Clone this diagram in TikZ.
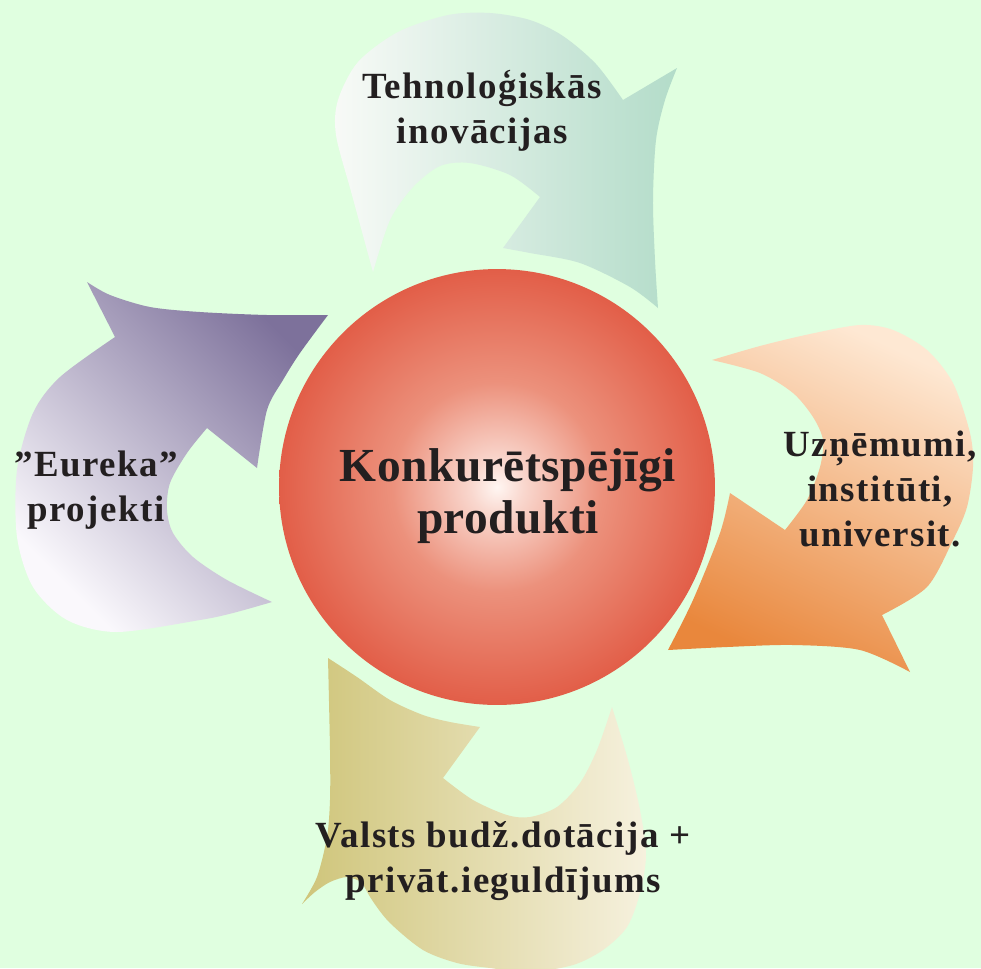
\documentclass[tikz,border=0pt]{standalone}
\usepackage{fontspec}
\setmainfont{Liberation Serif}
\usepackage{xcolor}
\usepackage{tikz}
\usetikzlibrary{calc}

\definecolor{bggreen}{HTML}{E0FFE0}
\definecolor{inkdark}{HTML}{231F20}
\definecolor{tealL}{HTML}{F8FAF7}
\definecolor{tealR}{HTML}{B3DCC9}
\definecolor{orgL}{HTML}{FEE8D3}
\definecolor{orgD}{HTML}{E9873C}
\definecolor{khaD}{HTML}{CFC57A}
\definecolor{khaL}{HTML}{F6F1DE}
\definecolor{purD}{HTML}{7D719B}
\definecolor{purL}{HTML}{FAF8FC}
\definecolor{ballin}{HTML}{FFF6F2}
\definecolor{ballmid}{HTML}{EC917C}
\definecolor{ballout}{HTML}{E25E48}

\pgfdeclareradialshading{ballred}{\pgfpoint{0bp}{0bp}}{color(0bp)=(ballin); color(3bp)=(ballin!70!ballmid); color(12bp)=(ballmid); color(25bp)=(ballout); color(50bp)=(ballout)}

\begin{document}
\begin{tikzpicture}[
  x=0.02cm, y=-0.02cm,
  ball/.style={circle, minimum size=8.72cm, inner sep=0pt, shade, shading=ballred},
  arrtext/.style={font=\fontsize{21}{25.5}\selectfont\bfseries\addfontfeature{LetterSpace=4}, text=inkdark, align=center, inner sep=0pt},
  prodtext/.style={font=\fontsize{27}{29.5}\selectfont\bfseries\addfontfeature{LetterSpace=1}, text=inkdark, align=center, inner sep=0pt}
]

\useasboundingbox[fill=bggreen] (0,0) rectangle (981,968);

% Arrows
\shade[left color=tealL, right color=tealR]
  plot[smooth] coordinates {(373,272) (352,195) (336,135) (338,100) (358,62) (398,32) (448,15) (490,13) (530,20) (563,36) (596,64) (623,100)}
  -- plot[smooth] coordinates {(677,68) (665,100) (656,140) (653,200) (655,260) (658,308)}
  -- plot[smooth] coordinates {(658,308) (630,287) (580,263) (530,253) (503,248)}
  -- plot[smooth] coordinates {(540,197) (510,175) (470,163) (440,166) (413,187) (390,220) (373,272)}
  -- cycle;

\shade[top color=orgL, bottom color=orgD, shading angle=-25]
  plot[smooth] coordinates {(712,360) (760,346) (810,334) (860,325) (893,330) (927,350) (953,383) (970,433) (973,467) (967,507) (953,540) (927,587) (882,615)}
  -- plot[smooth] coordinates {(910,672) (860,650) (793,645) (727,647) (668,650)}
  -- plot[smooth] coordinates {(668,650) (693,600) (720,533) (730,493)}
  -- plot[smooth] coordinates {(785,530) (807,500) (820,467) (823,440) (813,417) (793,393) (760,373) (712,360)}
  -- cycle;

\shade[left color=khaD, right color=khaL]
  plot[smooth] coordinates {(612,707) (628,760) (640,810) (646,855) (640,893) (627,927) (603,950) (573,965) (530,972) (490,968) (457,963) (423,950) (390,923) (372,900) (362,882)}
  -- plot[smooth] coordinates {(362,882) (347,877) (330,882) (315,892) (302,904)}
  -- plot[smooth] coordinates {(302,904) (317,877) (327,837) (330,800) (330,750) (328,658)}
  -- plot[smooth] coordinates {(328,658) (357,677) (390,700) (423,715) (450,722) (480,727)}
  -- plot[smooth] coordinates {(443,778) (473,800) (507,815) (530,817) (557,807) (580,783) (597,750) (612,707)}
  -- cycle;

\shade[top color=purD, bottom color=purL, shading angle=-45]
  plot[smooth] coordinates {(272,602) (233,613) (200,620) (117,632) (67,620) (33,587) (17,537) (17,470) (33,413) (60,377) (115,337)}
  -- plot[smooth] coordinates {(87,282) (110,295) (150,307) (200,312) (267,315) (328,315)}
  -- plot[smooth] coordinates {(328,315) (300,353) (283,380) (267,410) (257,468)}
  -- plot[smooth] coordinates {(207,428) (187,453) (170,483) (167,510) (173,533) (193,557) (227,580) (272,602)}
  -- cycle;

% Nodes
\node[ball] (ball) at (497,487) {};
\node[prodtext] (prod) at ($(ball)+(11,9)$) {Konkurētspējīgi\\produkti};
\node[arrtext] (tech) at (482,111) {Tehnoloģiskās\\inovācijas};
\node[arrtext] (firms) at (880,489) {Uzņēmumi,\\institūti,\\universit.};
\node[arrtext] (budget) at (503,861) {Valsts budž.dotācija +\\privāt.ieguldījums};
\node[arrtext] (eureka) at (96,490) {”Eureka”\\projekti};

\end{tikzpicture}
\end{document}
